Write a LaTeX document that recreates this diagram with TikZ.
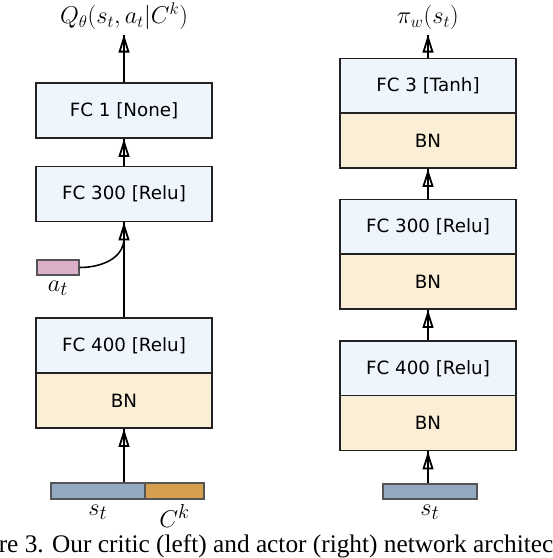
\documentclass[tikz,border=0pt]{standalone}
\usepackage{fontspec}
\newfontfamily\boxfont{DejaVu Sans}
\newfontfamily\capfont{Liberation Serif}
\usetikzlibrary{arrows.meta, positioning}

\definecolor{fcfill}{RGB}{238,245,253}
\definecolor{bnfill}{RGB}{250,239,214}
\definecolor{boxline}{RGB}{34,34,34}
\definecolor{barline}{RGB}{85,85,85}
\definecolor{stfill}{RGB}{147,169,191}
\definecolor{ckfill}{RGB}{212,160,80}
\definecolor{atfill}{RGB}{220,176,200}

\begin{document}
\begin{tikzpicture}[
    x=0.025cm, y=-0.025cm,
    layer/.style={draw=boxline, line width=1.2pt, minimum width=4.4cm, minimum height=1.375cm, inner sep=0pt, font=\boxfont\fontsize{13}{15}\selectfont},
    fc/.style={layer, fill=fcfill},
    bn/.style={layer, fill=bnfill},
    vec/.style={draw=barline, line width=1pt, minimum height=0.4cm, inner sep=0pt},
    mathlabel/.style={font=\fontsize{19}{22}\selectfont},
    flow/.style={line width=1.1pt, -{Triangle[open, length=0.45cm, width=0.27cm, line width=1.3pt]}, postaction={draw, -}}
]
\path[use as bounding box, clip] (0,0) rectangle (552,558);

% Critic
\node[fc] (cfc1) at (124,110.5) {FC 1 [None]};
\node[fc] (cfc300) at (124,194) {FC 300 [Relu]};
\node[fc] (cfc400) at (124,345.5) {FC 400 [Relu]};
\node[bn] (cbn) at (124,400.5) {BN};

\node[vec, fill=stfill, minimum width=2.35cm] (cst) at (98,491) {};
\node[vec, fill=ckfill, minimum width=1.475cm] (cck) at (174.5,491) {};
\node[vec, fill=atfill, minimum width=1.05cm, minimum height=0.375cm] (act) at (58,267.5) {};

\node[mathlabel, anchor=base, font=\fontsize{18}{21}\selectfont] (qout) at (124,23.5) {$Q_\theta(s_t,a_t|C^k)$};
\node[mathlabel, below=0pt of cst] (cstl) {$s_t$};
\node[mathlabel, below=0pt of cck] (cckl) {$C^k$};
\node[mathlabel, below=0pt of act] (actl) {$a_t$};

% Actor
\node[fc] (afc3) at (428,86) {FC 3 [Tanh]};
\node[bn] (abn3) at (428,140.5) {BN};
\node[fc] (afc300) at (428,227) {FC 300 [Relu]};
\node[bn] (abn300) at (428,281.5) {BN};
\node[fc] (afc400) at (428,368.5) {FC 400 [Relu]};
\node[bn] (abn400) at (428,423) {BN};

\node[vec, fill=stfill, minimum width=2.35cm, minimum height=0.375cm] (ast) at (430,491.5) {};
\node[mathlabel, anchor=base, font=\fontsize{18}{21}\selectfont] (piout) at (428,23.5) {$\pi_w(s_t)$};
\node[mathlabel, below=0pt of ast] (astl) {$s_t$};

% Caption
\node[font=\capfont\fontsize{18}{20}\selectfont, anchor=base] (caption) at (276,552) {re 3. Our critic (left) and actor (right) network architec};

% Connections
\draw[flow] (cfc1.north) -- (qout.south);
\draw[flow] (cfc300.north) -- (cfc1.south);
\draw[flow] (cfc400.north) -- (cfc300.south);
\draw[flow] (cbn.south |- cst.north) -- (cbn.south);
\coordinate (merge) at (124,238);
\draw[line width=1.1pt] (act.east) to[out=0, in=-90] (merge);

\draw[flow] (afc3.north) -- (piout.south);
\draw[flow] (afc300.north) -- (abn3.south);
\draw[flow] (afc400.north) -- (abn300.south);
\draw[flow] (abn400.south |- ast.north) -- (abn400.south);

\end{tikzpicture}
\end{document}
